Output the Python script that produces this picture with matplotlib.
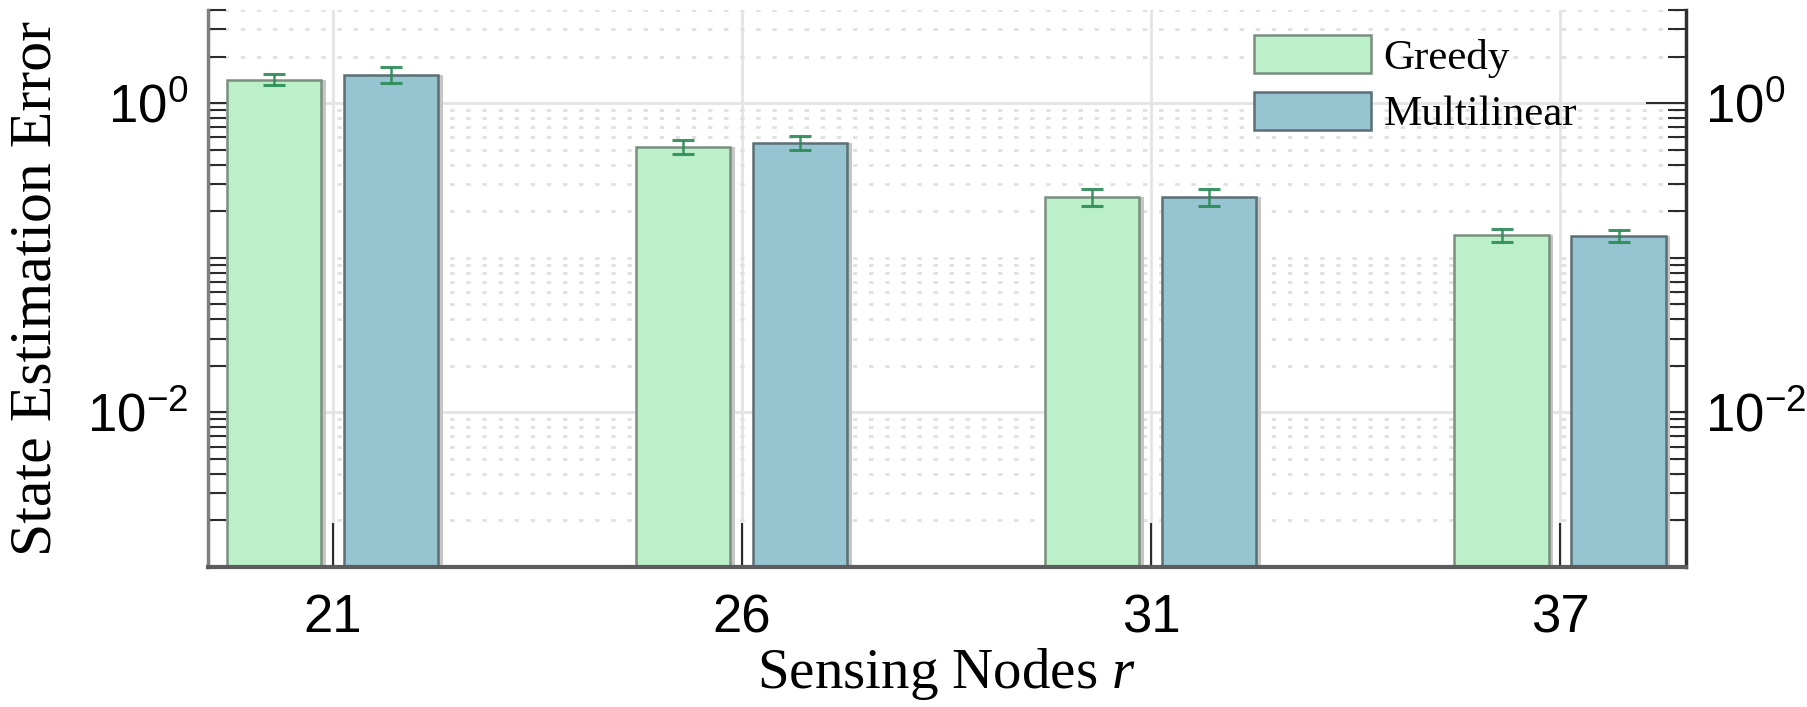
import numpy as np
import matplotlib
matplotlib.use('Agg')
import matplotlib.pyplot as plt
from matplotlib.ticker import FixedLocator, FixedFormatter, LogLocator, NullFormatter


# values
nodes = ['21', '26', '31', '37']
greedy = [1.42, 0.523, 0.248, 0.140]
greedy_err = [0.12, 0.056, 0.031, 0.013]
multilinear = [1.52, 0.555, 0.248, 0.139]
multilinear_err = [0.18, 0.056, 0.031, 0.013]

y_ticks = [1e-2, 1e0]
y_ticklabels = [r'$\mathsf{10^{-2}}$', r'$\mathsf{10^{0}}$']

plt.rcParams['font.family'] = 'Liberation Sans'
plt.rcParams['mathtext.fontset'] = 'custom'
plt.rcParams['mathtext.rm'] = 'Liberation Serif'
plt.rcParams['mathtext.it'] = 'Liberation Serif:italic'
plt.rcParams['mathtext.sf'] = 'Liberation Sans'

fig = plt.figure(figsize=(18.08, 7.07), dpi=100)
ax = fig.add_axes([208 / 1808, 140 / 707, 1478 / 1808, 557 / 707])
ax.set_yscale('log')

y_min, y_max = 1e-3, 4
x = np.arange(1, len(nodes) + 1)
w, off, sh = 0.23, 0.143, 0.011

# grey drop shadow behind each bar
ax.bar(x - off + sh, np.array(greedy) - y_min, w, bottom=y_min, color='#c6c6c6', zorder=0.9)
ax.bar(x + off + sh, np.array(multilinear) - y_min, w, bottom=y_min, color='#c6c6c6', zorder=0.9)

ax.bar(x - off, np.array(greedy) - y_min, w, bottom=y_min, color='#bbf0c8',
       edgecolor='#7b8e7f', linewidth=1.8, label='Greedy', zorder=1)
ax.bar(x + off, np.array(multilinear) - y_min, w, bottom=y_min, color='#96c4d0',
       edgecolor='#5b6f75', linewidth=1.8, label='Multilinear', zorder=1)

ax.errorbar(x - off, greedy, yerr=greedy_err, fmt='none', ecolor='#2a8a55',
            elinewidth=1.8, capsize=8, capthick=2.2, alpha=0.9, zorder=4)
ax.errorbar(x + off, multilinear, yerr=multilinear_err, fmt='none', ecolor='#2a8a55',
            elinewidth=1.8, capsize=8, capthick=2.2, alpha=0.9, zorder=4)

ax.set_xlim(0.695, 4.308)
ax.set_ylim(y_min, y_max)
ax.set_xticks(x)
ax.set_xticklabels(nodes)
ax.yaxis.set_major_locator(FixedLocator(y_ticks))
ax.yaxis.set_major_formatter(FixedFormatter(y_ticklabels))
ax.yaxis.set_minor_locator(LogLocator(base=10, subs=np.arange(1, 10), numticks=30))
ax.yaxis.set_minor_formatter(NullFormatter())

ax.set_axisbelow(True)
ax.grid(True, which='major', color='#e4e4e4', lw=2, ls='-')
ax.grid(True, which='minor', axis='y', color='#e0e0e0', lw=2, ls=(0, (1.6, 4.2)))

ax.tick_params(which='both', direction='in', left=True, right=True, top=False,
               labelright=True, color='#2b2b2b')
ax.tick_params(axis='y', which='major', length=29, width=1.5, labelsize=38, pad=14)
ax.tick_params(axis='y', which='minor', length=13, width=1.5)
ax.tick_params(axis='x', which='major', length=31.7, width=1.5, labelsize=38, pad=19)
ax.tick_params(axis='x', which='minor', bottom=False)

ax.spines['top'].set_visible(False)
ax.spines['left'].set_color('#7f7f7f')
ax.spines['left'].set_linewidth(2.5)
ax.spines['bottom'].set_color('#5c5c5c')
ax.spines['bottom'].set_linewidth(3)
ax.spines['right'].set_color('#303030')
ax.spines['right'].set_linewidth(2.5)

ax.set_xlabel(r'Sensing Nodes $r$', fontfamily='Liberation Serif', fontsize=41, labelpad=2)
ax.set_ylabel('State Estimation Error', fontfamily='Liberation Serif', fontsize=43, labelpad=17)

ax.legend(loc='upper left', bbox_to_anchor=(0.708, 0.955), frameon=False,
          borderpad=0, borderaxespad=0, handlelength=2.7, handleheight=0.98,
          handletextpad=0.3, labelspacing=0.32,
          prop={'family': 'Liberation Serif', 'size': 31})

fig.savefig('out.png', dpi=100)
